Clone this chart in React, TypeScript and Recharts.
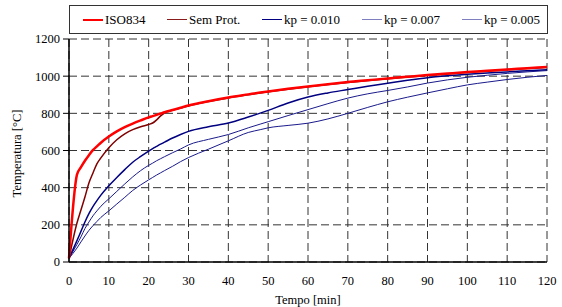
import { LineChart, Line, XAxis, YAxis, CartesianGrid, Legend } from "recharts";

// tempo [min]
const TIME = [
  0, 2, 3, 4, 5, 6, 7, 8, 10, 12, 14, 16, 18, 20, 21, 22, 23, 24, 26, 28, 30,
  35, 40, 45, 48, 50, 55, 60, 65, 70, 75, 80, 85, 90, 95, 100, 105, 110, 115, 120,
];

const ISO834 = [
  20, 470, 510, 545, 575, 602, 622, 642, 675, 703, 726, 745, 762, 778, 785, 792, 799, 806, 818, 830, 842,
  865, 885, 902, 912, 918, 932, 945, 957, 968, 978, 988, 997, 1006, 1014, 1022, 1029, 1036, 1043, 1050,
];

const SEM_PROT = [
  20, 210, 280, 350, 425, 478, 528, 560, 615, 658, 690, 712, 728, 740, 748, 765, 786, 803, 816, 828, 840,
  863, 883, 900, 910, 916, 930, 943, 955, 966, 976, 986, 995, 1004, 1012, 1020, 1027, 1034, 1041, 1047,
];

const KP010 = [
  20, 115, 165, 215, 260, 298, 330, 360, 410, 455, 497, 537, 568, 597, 610, 622, 634, 645, 667, 686, 703,
  728, 748, 780, 801, 816, 856, 888, 910, 928, 946, 962, 978, 992, 1002, 1010, 1017, 1023, 1029, 1035,
];

const KP007 = [
  20, 95, 135, 180, 215, 248, 275, 300, 340, 380, 420, 458, 492, 520, 532, 545, 556, 567, 588, 608, 630,
  660, 686, 722, 742, 755, 788, 820, 852, 882, 905, 923, 942, 963, 980, 994, 1005, 1015, 1023, 1030,
];

const KP005 = [
  20, 75, 108, 140, 170, 195, 218, 240, 275, 312, 348, 385, 415, 442, 455, 468, 480, 492, 515, 540, 562,
  607, 652, 697, 712, 722, 735, 747, 770, 800, 832, 862, 887, 910, 932, 953, 968, 982, 994, 1004,
];

const X_TICKS = [0, 10, 20, 30, 40, 50, 60, 70, 80, 90, 100, 110, 120];
const Y_TICKS = [0, 200, 400, 600, 800, 1000, 1200];

const SERIES = [
  { key: "iso", name: "ISO834", color: "#FF0000", width: 2.5 },
  { key: "sem", name: "Sem Prot.", color: "#800000", width: 1.5 },
  { key: "kp010", name: "kp = 0.010", color: "#000080", width: 1.5 },
  { key: "kp007", name: "kp = 0.007", color: "#1a1a8c", width: 1 },
  { key: "kp005", name: "kp = 0.005", color: "#1a1a8c", width: 1 },
];

const data = TIME.map((t, i) => ({
  t,
  iso: ISO834[i],
  sem: SEM_PROT[i],
  kp010: KP010[i],
  kp007: KP007[i],
  kp005: KP005[i],
}));

const FONT = "Liberation Serif, DejaVu Serif, Times New Roman, serif";

function LegendBox() {
  const lefts = [13, 97, 192, 292, 392];
  const legendColors = ["#FF0000", "#8b1a1a", "#000080", "#7f7fbf", "#7f7fbf"];
  return (
    <div
      style={{
        position: "relative",
        width: 479,
        height: 29,
        border: "1px solid #333",
        boxSizing: "border-box",
        background: "#fff",
        fontFamily: FONT,
        fontSize: 13,
        color: "#000",
      }}
    >
      {SERIES.map((s, i) => (
        <div
          key={s.key}
          style={{
            position: "absolute",
            left: lefts[i],
            top: 0,
            height: 27,
            display: "flex",
            alignItems: "center",
            whiteSpace: "nowrap",
          }}
        >
          <span
            style={{
              display: "inline-block",
              width: 20,
              height: s.key === "iso" ? 2 : 1.5,
              background: legendColors[i],
              marginRight: 2,
            }}
          />
          <span>{s.name}</span>
        </div>
      ))}
    </div>
  );
}

function YLabel(props: any) {
  const vb = props.viewBox || { x: 0, y: 39, width: 69, height: 223 };
  const x = vb.x + 17;
  const y = vb.y + vb.height / 2 + 3;
  return (
    <text
      x={x}
      y={y}
      transform={`rotate(-90, ${x}, ${y})`}
      textAnchor="middle"
      dominantBaseline="central"
      fontSize={12.5}
      fontFamily={FONT}
      fill="#000"
    >
      Temperatura [°C]
    </text>
  );
}

export default function App() {
  const drawOrder = [...SERIES].reverse();
  return (
    <div
      style={{
        position: "absolute",
        left: 0,
        top: 0,
        width: 562,
        height: 307,
        background: "#fff",
        fontFamily: FONT,
      }}
    >
      <LineChart
        width={562}
        height={307}
        data={data}
        margin={{ top: 39, right: 15, bottom: 0, left: 0 }}
        style={{ fontFamily: FONT }}
      >
        <CartesianGrid stroke="#333" strokeDasharray="8 4" />
        <XAxis
          dataKey="t"
          type="number"
          domain={[0, 120]}
          ticks={X_TICKS}
          interval={0}
          height={45}
          tickLine={false}
          tickMargin={8}
          axisLine={{ stroke: "#000", strokeWidth: 1.5 }}
          tick={{ fill: "#000", fontSize: 12.5, fontFamily: FONT }}
          label={{
            value: "Tempo [min]",
            position: "insideBottom",
            offset: 3,
            fill: "#000",
            fontSize: 12.5,
            fontFamily: FONT,
          }}
        />
        <YAxis
          type="number"
          domain={[0, 1200]}
          ticks={Y_TICKS}
          interval={0}
          width={69}
          tickSize={6}
          tickMargin={3}
          tickLine={{ stroke: "#000" }}
          axisLine={{ stroke: "#000", strokeWidth: 1.5 }}
          tick={{ fill: "#000", fontSize: 12.5, fontFamily: FONT }}
          label={<YLabel />}
        />
        <Legend
          verticalAlign="middle"
          align="center"
          layout="horizontal"
          wrapperStyle={{ top: 5, left: 69, width: 479, height: 29 }}
          content={() => <LegendBox />}
        />
        {drawOrder.map((s) => (
          <Line
            key={s.key}
            dataKey={s.key}
            name={s.name}
            type="monotone"
            stroke={s.color}
            strokeWidth={s.width}
            dot={false}
            activeDot={false}
            isAnimationActive={false}
          />
        ))}
      </LineChart>
    </div>
  );
}
